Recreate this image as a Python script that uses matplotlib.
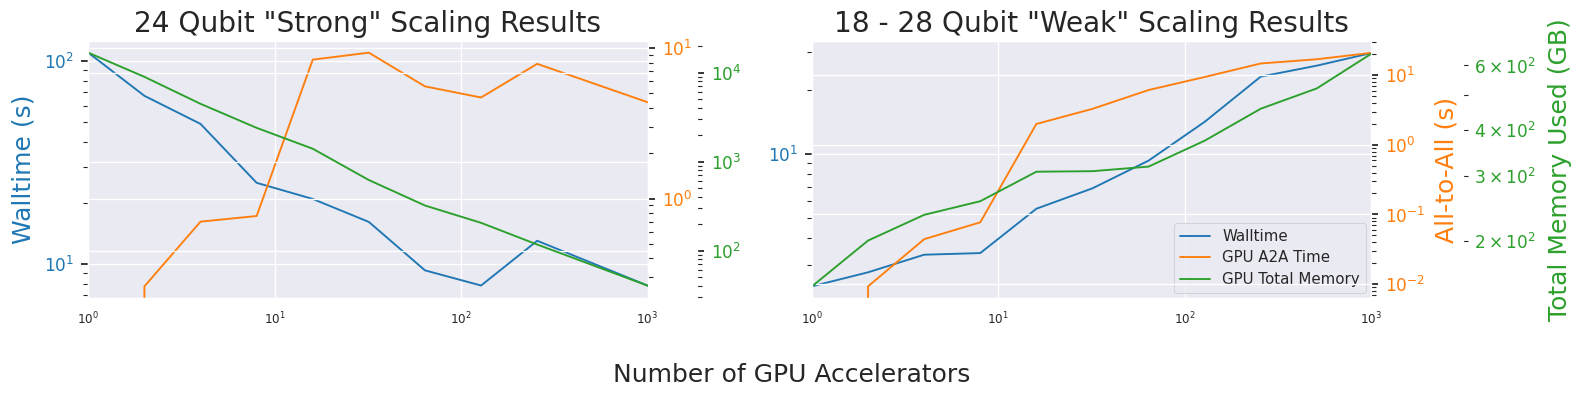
import matplotlib
matplotlib.use("Agg")
import matplotlib.pyplot as plt
import seaborn as sns

# ---------------- data ----------------
strong_gpus = [1, 2, 4, 8, 16, 32, 64, 128, 256, 1024]
strong_walltime = [110, 67.4, 49.0, 25.1, 20.9, 16.1, 9.29, 7.82, 13.0, 7.75]
strong_a2a = [0, 0.261, 0.702, 0.765, 8.37, 9.31, 5.56, 4.69, 7.85, 4.32]
strong_mem = [16700, 8940, 4450, 2390, 1393, 620, 321, 205, 117, 39.7]

weak_gpus = [1, 2, 4, 8, 16, 32, 64, 128, 256, 512, 1024]
weak_walltime = [2.38, 2.77, 3.35, 3.41, 5.51, 6.87, 9.27, 14.1, 23.0, 25.9, 29.8]
weak_a2a = [0, 0.0093, 0.0442, 0.0771, 1.99, 3.28, 6.11, 9.4, 14.7, 16.9, 21.0]
weak_mem = [151, 201, 236, 257, 309, 310, 319, 375, 458, 520, 650]

titles = ['24 Qubit "Strong" Scaling Results', '18 - 28 Qubit "Weak" Scaling Results']
series_labels = ["Walltime", "GPU A2A Time", "GPU Total Memory"]
xlabel = "Number of GPU Accelerators"
ylabel_wall = "Walltime (s)"
ylabel_a2a = "All-to-All (s)"
ylabel_mem = "Total Memory Used (GB)"

# ---------------- style ----------------
sns.set_theme(style="darkgrid")
plt.rcParams["font.family"] = ["DejaVu Sans"]

C_BLUE, C_ORANGE, C_GREEN = "#1f77b4", "#ff7f0e", "#2ca02c"
W, H = 1584, 398
DPI = 72
fig = plt.figure(figsize=(W / DPI, H / DPI), dpi=DPI)


def px_rect(x0, x1, ytop, ybot):
    return [x0 / W, 1 - ybot / H, (x1 - x0) / W, (ybot - ytop) / H]


def style_y(a, color):
    a.tick_params(axis="y", which="major", length=7, width=1.8, color=".15",
                  labelsize=17, labelcolor=color, pad=7)
    a.tick_params(axis="y", which="minor", length=5, width=1.1, color=".15",
                  labelsize=17, labelcolor=color, pad=6)
    a.grid(True, which="major", color="white", linewidth=1.3)


def make_panel(rect, gpus, wall, a2a, mem, title, mem_offset):
    ax = fig.add_axes(rect)
    ax2 = ax.twinx()
    ax3 = ax.twinx()
    ax3.spines["right"].set_position(("outward", mem_offset))

    l1, = ax.plot(gpus, wall, color=C_BLUE, lw=1.9, label=series_labels[0])
    l2, = ax2.plot(gpus, a2a, color=C_ORANGE, lw=1.9, label=series_labels[1])
    l3, = ax3.plot(gpus, mem, color=C_GREEN, lw=1.9, label=series_labels[2])

    for a in (ax, ax2, ax3):
        a.set_xscale("log")
        a.set_yscale("log")
        a.set_xlim(1, 1000)
    ax.tick_params(axis="y", left=True)
    style_y(ax, C_BLUE)
    style_y(ax2, C_ORANGE)
    style_y(ax3, C_GREEN)
    ax.tick_params(axis="x", which="both", bottom=False, length=0, pad=13,
                   labelsize=12, labelcolor=".15")
    for a in (ax2, ax3):
        a.grid(True, which="major", axis="x", color="white", linewidth=1.3)

    ax.set_title(title, fontsize=28, pad=9)
    return ax, ax2, ax3, (l1, l2, l3)


axL, axL2, axL3, _ = make_panel(px_rect(88.3, 647.5, 41, 298), strong_gpus,
                                strong_walltime, strong_a2a, strong_mem,
                                titles[0], 49)
axL.set_ylabel(ylabel_wall, color=C_BLUE, fontsize=25, labelpad=8)

axR, axR2, axR3, lines = make_panel(px_rect(812, 1371, 41, 298), weak_gpus,
                                    weak_walltime, weak_a2a, weak_mem,
                                    titles[1], 92)
axR2.set_ylabel(ylabel_a2a, color=C_ORANGE, fontsize=25, labelpad=9)
axR3.set_ylabel(ylabel_mem, color=C_GREEN, fontsize=25, labelpad=12)
axR.legend(lines, series_labels, loc="lower right", fontsize=15,
           borderaxespad=0.35, labelspacing=0.42)

fig.text(0.5, 1 - 375 / H, xlabel, ha="center", va="center", fontsize=25,
         color=".15")

fig.savefig("out.png", dpi=DPI)
